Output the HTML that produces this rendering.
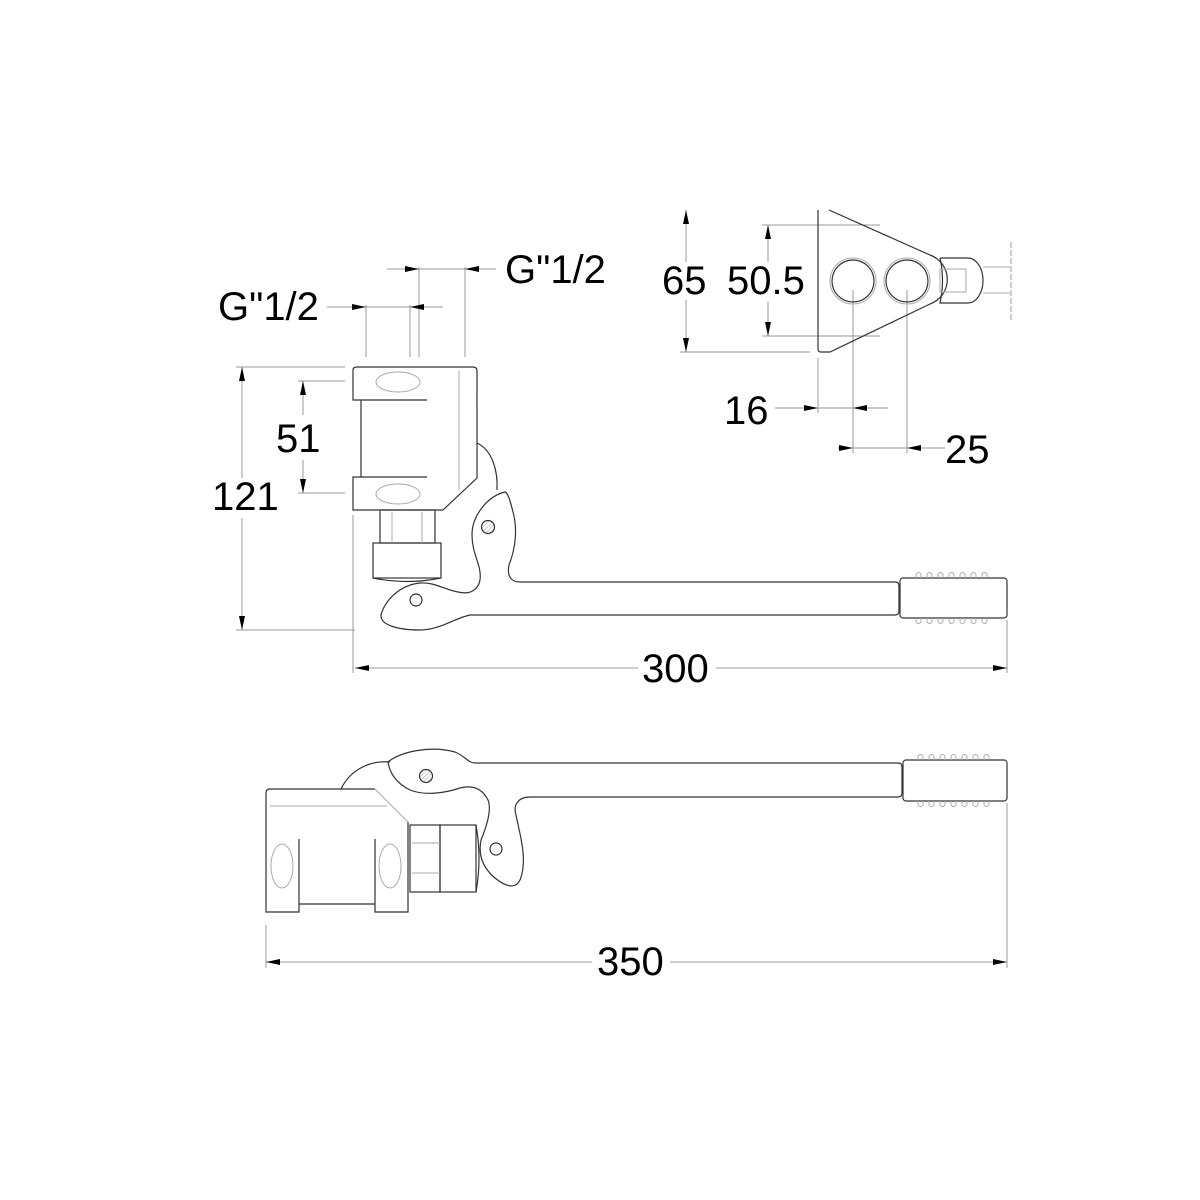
<!DOCTYPE html>
<html><head><style>body{margin:0;background:#fff}svg{display:block}</style></head>
<body>
<svg width="1200" height="1200" viewBox="0 0 1200 1200" xmlns="http://www.w3.org/2000/svg">
<defs>
<marker id="a" viewBox="0 0 14 6" refX="14" refY="3" markerWidth="14" markerHeight="6" markerUnits="userSpaceOnUse" orient="auto"><path d="M0,0L14,3L0,6z" fill="#000"/></marker>
<pattern id="h" width="3" height="3" patternUnits="userSpaceOnUse" patternTransform="rotate(45)"><line x1="0" y1="0" x2="0" y2="3" stroke="#aaa" stroke-width="1"/></pattern>
</defs>
<g font-family="Liberation Sans, sans-serif" font-size="40" fill="#000">
<text x="505" y="283">G"1/2</text>
<text x="218" y="320">G"1/2</text>
<text x="276" y="452">51</text>
<text x="212" y="510">121</text>
<text x="642" y="682">300</text>
<text x="597" y="975">350</text>
<text x="662" y="294">65</text>
<text x="727" y="294">50.5</text>
<text x="724" y="424">16</text>
<text x="945" y="463">25</text>
</g>
<g stroke="#999" stroke-width="1" fill="none">
<line x1="387" y1="269" x2="496" y2="269"/>
<line x1="419" y1="267" x2="419" y2="357"/><line x1="465" y1="267" x2="465" y2="357"/>
<line x1="327" y1="307" x2="443" y2="307"/>
<line x1="366" y1="305" x2="366" y2="357"/><line x1="410" y1="305" x2="410" y2="357"/>
<line x1="242" y1="367" x2="242" y2="478"/><line x1="242" y1="518" x2="242" y2="630"/>
<line x1="236" y1="367" x2="345" y2="367"/><line x1="236" y1="630" x2="355" y2="630"/>
<line x1="303" y1="381" x2="303" y2="415"/><line x1="303" y1="460" x2="303" y2="493"/>
<line x1="298" y1="381" x2="345" y2="381"/><line x1="298" y1="493" x2="345" y2="493"/>
<line x1="355" y1="668" x2="638" y2="668"/><line x1="716" y1="668" x2="1007" y2="668"/>
<line x1="353" y1="515" x2="353" y2="673"/><line x1="1007" y1="620" x2="1007" y2="673"/>
<line x1="266" y1="962" x2="592" y2="962"/><line x1="670" y1="962" x2="1007" y2="962"/>
<line x1="266" y1="925" x2="266" y2="968"/><line x1="1007" y1="803" x2="1007" y2="968"/>
<line x1="686" y1="210" x2="686" y2="262"/><line x1="686" y1="300" x2="686" y2="352"/>
<line x1="680" y1="352" x2="810" y2="352"/>
<line x1="768" y1="225" x2="768" y2="262"/><line x1="768" y1="302" x2="768" y2="336"/>
<line x1="762" y1="225" x2="880" y2="225"/><line x1="762" y1="336" x2="880" y2="336"/>
<line x1="775" y1="408" x2="888" y2="408"/>
<line x1="818" y1="358" x2="818" y2="413"/><line x1="853" y1="290" x2="853" y2="453"/>
<line x1="907" y1="290" x2="907" y2="453"/>
<line x1="838" y1="448" x2="945" y2="448"/>
<line x1="1011" y1="242" x2="1011" y2="322" stroke-dasharray="6,2"/>
</g>
<g stroke="none">
<line x1="387" y1="269" x2="419" y2="269" marker-end="url(#a)"/>
<line x1="496" y1="269" x2="465" y2="269" marker-end="url(#a)"/>
<line x1="330" y1="307" x2="366" y2="307" marker-end="url(#a)"/>
<line x1="443" y1="307" x2="410" y2="307" marker-end="url(#a)"/>
<line x1="242" y1="420" x2="242" y2="367" marker-end="url(#a)"/>
<line x1="242" y1="580" x2="242" y2="630" marker-end="url(#a)"/>
<line x1="303" y1="420" x2="303" y2="381" marker-end="url(#a)"/>
<line x1="303" y1="460" x2="303" y2="493" marker-end="url(#a)"/>
<line x1="400" y1="668" x2="355" y2="668" marker-end="url(#a)"/>
<line x1="960" y1="668" x2="1007" y2="668" marker-end="url(#a)"/>
<line x1="320" y1="962" x2="266" y2="962" marker-end="url(#a)"/>
<line x1="960" y1="962" x2="1007" y2="962" marker-end="url(#a)"/>
<line x1="686" y1="250" x2="686" y2="210" marker-end="url(#a)"/>
<line x1="686" y1="310" x2="686" y2="352" marker-end="url(#a)"/>
<line x1="768" y1="262" x2="768" y2="225" marker-end="url(#a)"/>
<line x1="768" y1="302" x2="768" y2="336" marker-end="url(#a)"/>
<line x1="790" y1="408" x2="818" y2="408" marker-end="url(#a)"/>
<line x1="880" y1="408" x2="853" y2="408" marker-end="url(#a)"/>
<line x1="830" y1="448" x2="853" y2="448" marker-end="url(#a)"/>
<line x1="935" y1="448" x2="907" y2="448" marker-end="url(#a)"/>
</g>
<!-- FRONT VIEW -->
<g stroke="#333" stroke-width="1.2" fill="none">
<path d="M357,367 H473 Q477,367 477,371 V478 L443,510 H353 V477 H427 M361,477 V400 M427,400 H353 V370 Q353,367 357,367"/>
<path d="M477,443 C492,450 498,470 497,490"/>
<rect x="380" y="510" width="55" height="33"/>
<rect x="373" y="543" width="68" height="35"/>
<path d="M373,578 Q407,585 441,578"/>
<path d="M505,492 C488,496 472,515 472,535 C472,555 482,565 480,580 C478,590 470,595 458,592 C445,590 435,582 420,583 C400,585 385,600 381,615 C380,625 398,630 420,630 C440,630 455,618 470,615 H895 Q899,615 899,611 V586 Q899,582 895,582 H520 C510,582 507,575 509,565 C515,550 518,530 513,512 C510,500 508,493 505,492 Z"/>
<circle cx="488" cy="527" r="6.5" fill="url(#h)"/>
<circle cx="416" cy="600" r="6"/>
<rect x="900" y="578" width="107" height="40" rx="3"/>
</g>
<g stroke="#aaa" stroke-width="1" fill="none">
<ellipse cx="398" cy="382" rx="22" ry="10"/><ellipse cx="398" cy="494" rx="22" ry="10"/>
<line x1="459" y1="371" x2="459" y2="490"/>
<line x1="392" y1="512" x2="392" y2="543"/><line x1="422" y1="512" x2="422" y2="543"/>
<path d="M916,578 v-3 a2.5,2.5 0 0 1 5,0 v3 M927,578 v-3 a2.5,2.5 0 0 1 5,0 v3 M938,578 v-3 a2.5,2.5 0 0 1 5,0 v3 M949,578 v-3 a2.5,2.5 0 0 1 5,0 v3 M960,578 v-3 a2.5,2.5 0 0 1 5,0 v3 M971,578 v-3 a2.5,2.5 0 0 1 5,0 v3 M982,578 v-3 a2.5,2.5 0 0 1 5,0 v3"/>
<path d="M916,618 v3 a2.5,2.5 0 0 0 5,0 v-3 M927,618 v3 a2.5,2.5 0 0 0 5,0 v-3 M938,618 v3 a2.5,2.5 0 0 0 5,0 v-3 M949,618 v3 a2.5,2.5 0 0 0 5,0 v-3 M960,618 v3 a2.5,2.5 0 0 0 5,0 v-3 M971,618 v3 a2.5,2.5 0 0 0 5,0 v-3 M982,618 v3 a2.5,2.5 0 0 0 5,0 v-3"/>
</g>
<!-- BOTTOM VIEW -->
<g stroke="#333" stroke-width="1.2" fill="none">
<path d="M270,789 H375 M408,822 V912 H375 V839 M299,839 V912 H266 V793 Q266,789 270,789"/>
<line x1="299" y1="904" x2="375" y2="904"/>
<path d="M341,789 C350,770 370,760 390,762"/>
<rect x="410" y="825" width="30" height="67"/>
<rect x="440" y="825" width="36" height="67"/>
<path d="M476,825 Q482,858 476,892"/>
<path d="M388,762 C400,752 430,745 455,752 C465,756 468,763 475,763 H898 Q902,763 902,767 V793 Q902,797 898,797 H530 C518,797 513,805 516,815 C520,835 528,860 520,880 C515,890 505,886 495,878 C483,868 478,855 481,840 C486,828 492,810 488,800 C482,788 472,785 460,788 C445,793 425,796 410,790 C398,784 390,775 388,762 Z"/>
<circle cx="426" cy="776" r="6.5" fill="url(#h)"/>
<circle cx="496" cy="849" r="6"/>
<rect x="903" y="760" width="104" height="41" rx="3"/>
</g>
<g stroke="#aaa" stroke-width="1" fill="none">
<line x1="375" y1="789" x2="408" y2="822"/>
<line x1="270" y1="806" x2="387" y2="806"/>
<ellipse cx="282" cy="866" rx="11" ry="22"/><ellipse cx="390" cy="866" rx="11" ry="22"/>
<line x1="412" y1="843" x2="440" y2="843"/><line x1="412" y1="873" x2="440" y2="873"/>
<path d="M918,760 v-3 a2.5,2.5 0 0 1 5,0 v3 M929,760 v-3 a2.5,2.5 0 0 1 5,0 v3 M940,760 v-3 a2.5,2.5 0 0 1 5,0 v3 M951,760 v-3 a2.5,2.5 0 0 1 5,0 v3 M962,760 v-3 a2.5,2.5 0 0 1 5,0 v3 M973,760 v-3 a2.5,2.5 0 0 1 5,0 v3 M984,760 v-3 a2.5,2.5 0 0 1 5,0 v3"/>
<path d="M918,801 v3 a2.5,2.5 0 0 0 5,0 v-3 M929,801 v3 a2.5,2.5 0 0 0 5,0 v-3 M940,801 v3 a2.5,2.5 0 0 0 5,0 v-3 M951,801 v3 a2.5,2.5 0 0 0 5,0 v-3 M962,801 v3 a2.5,2.5 0 0 0 5,0 v-3 M973,801 v3 a2.5,2.5 0 0 0 5,0 v-3 M984,801 v3 a2.5,2.5 0 0 0 5,0 v-3"/>
</g>
<!-- SIDE VIEW -->
<g stroke="#333" stroke-width="1.2" fill="none">
<path d="M829,210 L930,255 A26,26 0 0 1 930,304 L830,352 H821 Q818,352 818,349 V210"/>
<circle cx="853" cy="281" r="21"/><circle cx="907" cy="281" r="21"/>
<path d="M940,258 H968 A15,22.5 0 0 1 968,303 H940 Q945,280 940,258"/>
</g>
<g stroke="#aaa" stroke-width="1" fill="none">
<circle cx="853" cy="281" r="23"/><circle cx="907" cy="281" r="23"/>
<rect x="940" y="269" width="26" height="23"/>
<line x1="983" y1="267" x2="1010" y2="267"/><line x1="983" y1="293" x2="1010" y2="293"/>
</g>
</svg>
</body></html>
